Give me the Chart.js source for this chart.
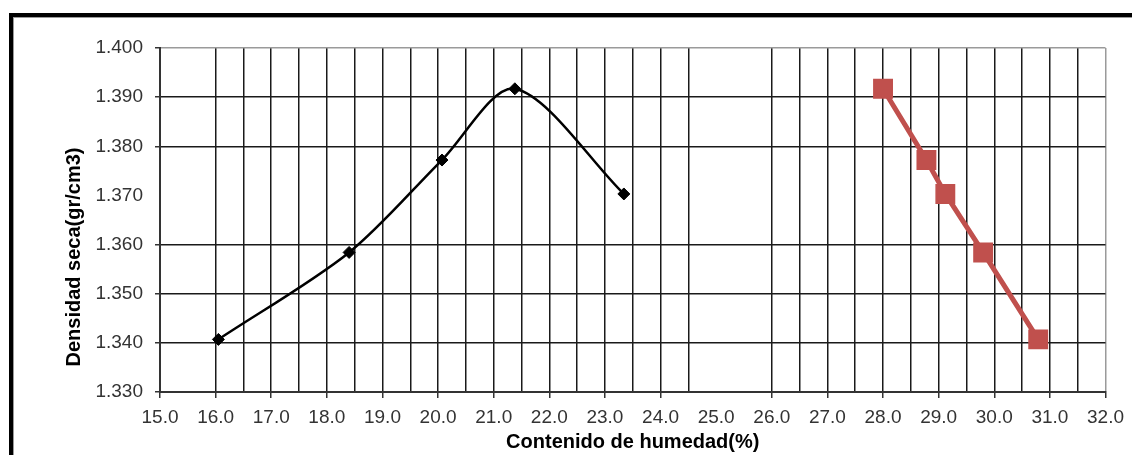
<!DOCTYPE html>
<html>
<head>
<meta charset="utf-8">
<script src="https://cdn.jsdelivr.net/npm/chart.js@4/dist/chart.umd.min.js"></script>
<style>
html,body{margin:0;padding:0;background:#fff;}
#wrap{position:relative;width:1132px;height:455px;overflow:hidden;}
#frame{position:absolute;left:9px;top:13px;width:1200px;height:500px;border-left:4px solid #000;border-top:4px solid #000;box-shadow:inset 1px 1px 0 #9a9a9a;}
#c{position:absolute;left:0;top:0;}
</style>
</head>
<body>
<div id="wrap">
<div id="frame"></div>
<canvas id="c" width="1132" height="455"></canvas>
</div>
<script>
/* datos */
let humedadLab=[16.05,18.40,20.07,21.38,23.34];
let densidadLab=[1.3407,1.3584,1.3772,1.3917,1.3703];
let humedadSat=[28.00,28.78,29.12,29.80,30.79];
let densidadSat=[1.3917,1.3772,1.3703,1.3584,1.3407];

let xMin=15,xMax=32,xStep=0.5;
let yMin=1.33,yMax=1.40,yStep=0.01;

let xTitle="Contenido de humedad(%)";
let yTitle="Densidad seca(gr/cm3)";

/* lineas de rejilla que no aparecen en la imagen */
let xSinLinea=[15.5,25.0,25.5];
let ySinLinea=[1.37];

let font="'Liberation Sans', Arial, sans-serif";

function pts(xs,ys){ return xs.map((x,i)=>({x:x,y:ys[i]})); }
function isIn(v,arr){ return arr.some(a=>Math.abs(a-v)<1e-6); }

/* titulo eje Y (dibujado a mano para ubicarlo igual) */
let yTitlePlugin={
id:"yTitle",
afterDraw(ch){
let ctx=ch.ctx;
ctx.save();
ctx.translate(74,257);
ctx.rotate(-Math.PI/2);
ctx.font="bold 20px "+font;
ctx.fillStyle="#000";
ctx.textAlign="center";
ctx.textBaseline="middle";
ctx.fillText(yTitle,0,0);
ctx.restore();
}
};

new Chart(document.getElementById("c"),{
type:"line",
data:{
datasets:[
{
data:pts(humedadLab,densidadLab),
borderColor:"#000",
backgroundColor:"#000",
borderWidth:2.5,
tension:0.3,
pointStyle:"rectRot",
pointRadius:6,
pointBorderWidth:1
},
{
data:pts(humedadSat,densidadSat),
borderColor:"#c0504d",
backgroundColor:"#c0504d",
borderWidth:5,
tension:0,
pointStyle:"rect",
pointRadius:13,
pointBorderWidth:1.5
}
]
},
options:{
responsive:false,
animation:false,
layout:{padding:{left:0,top:48,right:24,bottom:0}},
plugins:{legend:{display:false},tooltip:{enabled:false}},
scales:{
x:{
type:"linear",
min:xMin,max:xMax,
afterFit:s=>{s.height=63;},
grid:{
color:c=>{let v=c.tick.value; if(isIn(v,xSinLinea)) return "rgba(0,0,0,0)"; if(v===xMax) return "#9a9a9a"; return "#1a1a1a";},
lineWidth:1.5,
tickLength:6,
tickColor:c=>{let v=c.tick.value; if(Math.abs(v-Math.round(v))>1e-6||isIn(v,xSinLinea)) return "rgba(0,0,0,0)"; return "#333";}
},
border:{color:"#333",width:2},
ticks:{
stepSize:xStep,
maxTicksLimit:100,
autoSkip:false,
maxRotation:0,minRotation:0,
padding:8,
color:"#333",
font:{family:font,size:19},
callback:v=>Math.abs(v-Math.round(v))<1e-6?v.toFixed(1):""
},
title:{display:true,text:xTitle,color:"#000",font:{family:font,size:20,weight:"bold"},padding:{top:0,bottom:1}}
},
y:{
min:yMin,max:yMax,
afterFit:s=>{s.width=160;},
grid:{
color:c=>{let v=c.tick.value; if(isIn(v,ySinLinea)) return "rgba(0,0,0,0)"; if(Math.abs(v-yMax)<1e-6) return "#9a9a9a"; return "#1a1a1a";},
lineWidth:1.5,
tickLength:5,
tickColor:c=>isIn(c.tick.value,ySinLinea)?"rgba(0,0,0,0)":"#333"
},
border:{color:"#333",width:2},
ticks:{
stepSize:yStep,
padding:12,
color:"#333",
font:{family:font,size:19},
callback:v=>v.toFixed(3)
}
}
}
},
plugins:[yTitlePlugin]
});
</script>
</body>
</html>
